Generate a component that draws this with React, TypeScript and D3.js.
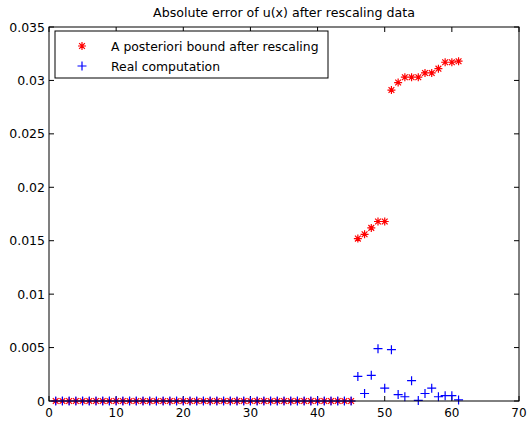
import React from "react";
import { scaleLinear, range } from "d3";

// x index of every sample: 1..61
const xIndex = range(1, 62);

// A posteriori bound after rescaling (0 for the first 45 samples)
const boundValues = [
  ...range(1, 46).map(() => 0),
  0.0152, 0.0156, 0.0162, 0.0168, 0.0168,
  0.0291, 0.0298, 0.0303, 0.0303, 0.0303, 0.0307, 0.0307, 0.0311, 0.0317, 0.0317, 0.0318,
];

// Real computation
const realValues = [
  ...range(1, 46).map(() => 0),
  0.0023, 0.0007, 0.0024, 0.0049, 0.0012, 0.0048, 0.0006, 0.0004,
  0.0019, 0.00005, 0.0007, 0.0012, 0.0004, 0.0005, 0.0005, 0.0001,
];

const xTicks = [0, 10, 20, 30, 40, 50, 60, 70];
const yTicks = [0, 0.005, 0.01, 0.015, 0.02, 0.025, 0.03, 0.035];
const yTickLabels = ["0", "0.005", "0.01", "0.015", "0.02", "0.025", "0.03", "0.035"];
const title = "Absolute error of u(x) after rescaling data";
const legendLabels = ["A posteriori bound after rescaling", "Real computation"];

const W = 532;
const H = 427;
const margin = { top: 27, right: 13, bottom: 26, left: 49 };
const FONT = "'DejaVu Sans', 'Liberation Sans', Arial, sans-serif";

const star = (x: number, y: number, r = 4) => {
  const d = r * 0.72;
  return `M${x - r},${y}H${x + r}M${x},${y - r}V${y + r}M${x - d},${y - d}L${x + d},${y + d}M${x - d},${y + d}L${x + d},${y - d}`;
};
const plus = (x: number, y: number, r = 4.5) =>
  `M${x - r},${y}H${x + r}M${x},${y - r}V${y + r}`;

const App = () => {
  const x = scaleLinear().domain([0, 70]).range([margin.left, W - margin.right]);
  const y = scaleLinear().domain([0, 0.035]).range([H - margin.bottom, margin.top]);
  const [x0, x1] = x.range();
  const [y0, y1] = y.range();
  const tick = 5;

  return (
    <div style={{ position: "absolute", left: 0, top: 0 }}>
      <svg width={W} height={H} style={{ display: "block", background: "#fff" }} fontFamily={FONT}>
        <text x={(x0 + x1) / 2} y={17} textAnchor="middle" fontSize={12.6}>
          {title}
        </text>

        {/* ticks */}
        {xTicks.map((t) => (
          <g key={"x" + t}>
            <line x1={x(t)} x2={x(t)} y1={y0} y2={y0 - tick} stroke="#000" />
            <line x1={x(t)} x2={x(t)} y1={y1} y2={y1 + tick} stroke="#000" />
            <text x={x(t)} y={y0 + 16} textAnchor="middle" fontSize={12}>
              {t}
            </text>
          </g>
        ))}
        {yTicks.map((t, i) => (
          <g key={"y" + t}>
            <line x1={x0} x2={x0 + tick} y1={y(t)} y2={y(t)} stroke="#000" />
            <line x1={x1} x2={x1 - tick} y1={y(t)} y2={y(t)} stroke="#000" />
            <text x={x0 - 4} y={y(t) + 4.5} textAnchor="end" fontSize={12.5}>
              {yTickLabels[i]}
            </text>
          </g>
        ))}

        {/* data */}
        <path
          d={xIndex.map((v, i) => star(x(v), y(boundValues[i]))).join("")}
          stroke="#ff0000"
          strokeWidth={1.2}
          fill="none"
        />
        <path
          d={xIndex.map((v, i) => plus(x(v), y(realValues[i]))).join("")}
          stroke="#0000ff"
          strokeWidth={1.2}
          fill="none"
        />

        {/* axes box */}
        <rect x={x0} y={y1} width={x1 - x0} height={y0 - y1} fill="none" stroke="#000" />

        {/* legend */}
        <g transform="translate(55,31)">
          <rect x={0} y={0} width={273} height={47} fill="#fff" stroke="#000" />
          <path d={star(27, 15)} stroke="#ff0000" strokeWidth={1.2} fill="none" />
          <text x={56} y={19.5} fontSize={12.4}>
            {legendLabels[0]}
          </text>
          <path d={plus(27, 35)} stroke="#0000ff" strokeWidth={1.2} fill="none" />
          <text x={56} y={39.5} fontSize={12.4}>
            {legendLabels[1]}
          </text>
        </g>
      </svg>
    </div>
  );
};

export default App;
